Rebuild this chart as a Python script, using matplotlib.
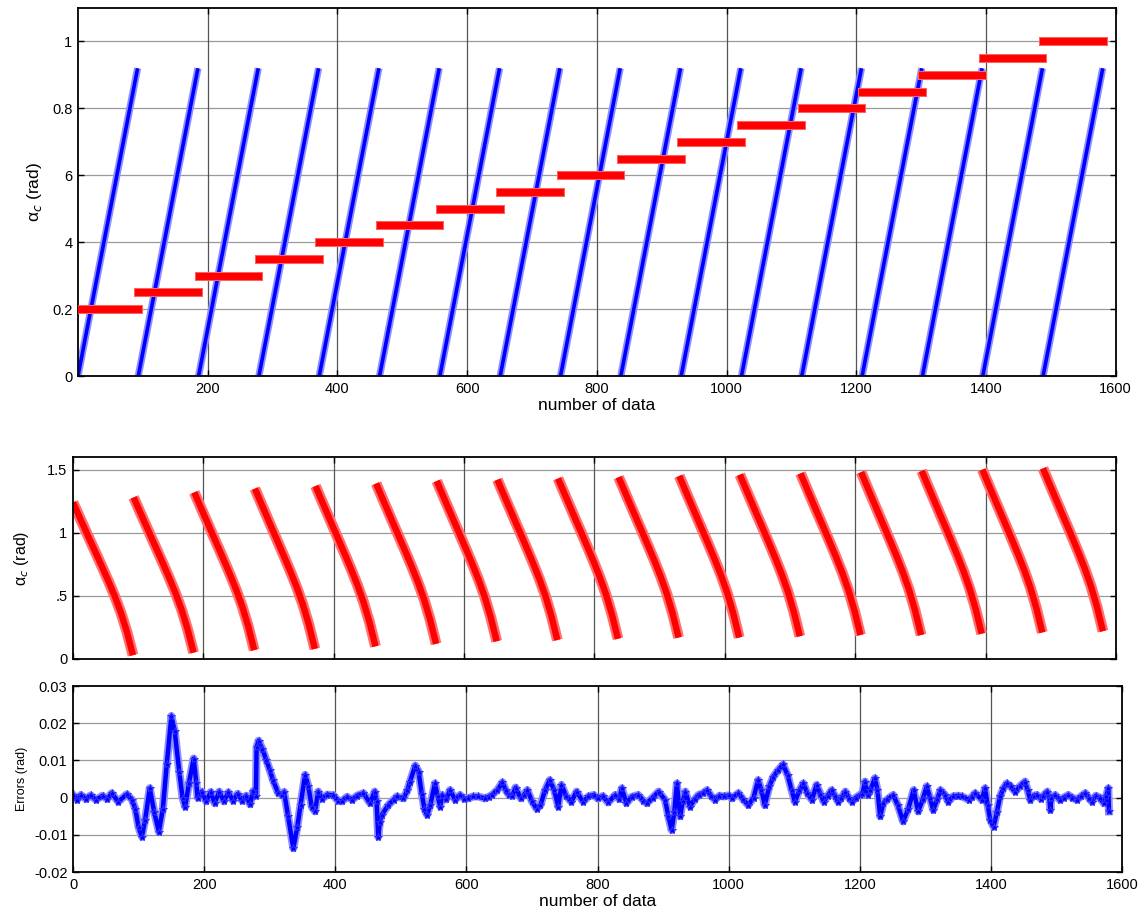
# Imports
import matplotlib
matplotlib.use('Agg')
import matplotlib.pyplot as plt
import matplotlib.patheffects as pe


# Data
seg_len = 93                      # samples per sweep
n_seg = 17
ramp_low = 0.0                    # alpha sweep, start and end of each segment
ramp_high = 0.92
step_levels = [0.20, 0.25, 0.30, 0.35, 0.40, 0.45, 0.50, 0.55, 0.60,
               0.65, 0.70, 0.75, 0.80, 0.85, 0.90, 0.95, 1.00]

# alpha_c per segment: first and last value, plus the common shape of the curve
ac_start = [1.24, 1.28, 1.32, 1.35, 1.37, 1.39, 1.41, 1.42, 1.43,
            1.44, 1.45, 1.46, 1.47, 1.48, 1.49, 1.50, 1.51]
ac_end = [0.03, 0.05, 0.07, 0.08, 0.10, 0.12, 0.14, 0.15, 0.16,
          0.17, 0.17, 0.18, 0.19, 0.19, 0.20, 0.21, 0.22]
ac_frac = [0.0, 0.1, 0.2, 0.3, 0.4, 0.5, 0.6, 0.7, 0.8, 0.9, 1.0]
ac_shape = [1.0, 0.912, 0.825, 0.738, 0.652, 0.565, 0.476, 0.382, 0.277, 0.151, 0.0]

# Estimation errors
err_idx = [0, 6, 12, 20, 27, 35, 45, 52, 59, 69, 82, 90, 95, 100, 105, 110, 117, 124,
           131, 137, 143, 150, 155, 162, 167, 171, 177, 184, 188, 190, 196, 203, 210,
           216, 223, 230, 237, 244, 251, 258, 264, 270, 275, 279, 280, 283, 289, 295,
           300, 305, 313, 318, 322, 328, 336, 342, 347, 354, 359, 364, 369, 374, 380,
           388, 397, 404, 410, 418, 426, 433, 443, 453, 460, 463, 465.5, 468, 471, 481,
           489, 494, 504, 510, 514, 522, 527, 532, 536, 540, 545, 552, 556, 560, 563,
           569, 575, 583, 590, 597, 603, 610, 618, 628, 634, 639, 647, 655, 660, 665,
           670, 675, 683, 688, 693, 700, 707, 713, 720, 727, 734, 740, 745, 752, 760,
           768, 778, 786, 794, 800, 808, 816, 827, 833, 837, 844, 852, 862, 870, 875,
           884, 893, 903, 908, 913, 917, 921, 926, 930, 934, 941, 948, 954, 961, 967,
           973, 979, 986, 993, 1000, 1005, 1015, 1022, 1030, 1038, 1045, 1050, 1055,
           1062, 1068, 1076, 1083, 1090, 1096, 1101, 1108, 1114, 1120, 1127, 1134, 1140,
           1145, 1151, 1157, 1162, 1167, 1172, 1178, 1183, 1188, 1194, 1200, 1204, 1208,
           1212, 1216, 1223, 1227, 1231, 1236, 1242, 1251, 1258, 1266, 1274, 1282, 1289,
           1296, 1302, 1307, 1312, 1318, 1323, 1330, 1335, 1342, 1350, 1356, 1366, 1371,
           1376, 1386, 1391, 1395, 1399, 1404, 1409, 1414, 1419, 1424, 1430, 1437, 1444,
           1452, 1456, 1460, 1465, 1470, 1476, 1480, 1486, 1489, 1490.6, 1492, 1498, 1505,
           1511, 1518, 1524, 1531, 1537, 1544, 1549, 1554, 1560, 1566, 1572, 1576, 1579,
           1580]
err_val = [0.0007, -0.0006, 0.0007, -0.0004, 0.0006, -0.0006, 0.0005, -0.0004, 0.0012,
           -0.0011, 0.0009, -0.0006, -0.003, -0.008, -0.0105, -0.006, 0.0025, -0.004,
           -0.0092, -0.003, 0.009, 0.0219, 0.018, 0.007, 0.0, -0.0024, 0.004, 0.0105,
           0.004, 0.0, 0.0016, -0.001, 0.0015, -0.0015, 0.0016, -0.001, 0.0014, -0.0008,
           0.001, -0.0008, 0.0005, -0.0018, 0.0018, 0.0005, 0.0135, 0.0153, 0.013, 0.010,
           0.0075, 0.0047, 0.0012, 0.0008, 0.0015, -0.005, -0.0136, -0.008, -0.002,
           0.0061, 0.003, -0.0024, -0.0037, 0.0016, -0.0003, 0.0008, 0.0006, -0.0008,
           -0.001, 0.0002, -0.0006, 0.0005, 0.0012, -0.0015, 0.0016, -0.001, -0.0105,
           -0.0065, -0.0046, -0.002, -0.0006, 0.0003, -0.0002, 0.002, 0.0043, 0.0086,
           0.007, 0.001, -0.003, -0.0046, -0.002, 0.0038, 0.0005, -0.0024, 0.0007,
           -0.0005, 0.002, -0.0006, 0.0007, -0.0003, -0.0002, 0.0003, 0.0003, -0.0002,
           0.0002, 0.0007, 0.002, 0.0041, 0.002, 0.0007, 0.0005, 0.0027, -0.0002, 0.0008,
           0.002, -0.001, -0.003, -0.002, 0.002, 0.0047, 0.002, -0.0024, 0.0034, 0.0005,
           -0.0011, 0.0016, -0.0011, 0.0003, 0.0007, -0.0002, 0.0004, -0.0013, 0.0007,
           -0.0004, 0.0025, -0.0015, 0.0002, 0.0007, -0.0008, -0.0015, 0.0, 0.0016,
           -0.0006, -0.005, -0.0087, -0.004, 0.0038, -0.005, -0.001, 0.0016, -0.0024,
           -0.0005, 0.0007, 0.0012, 0.002, 0.0005, -0.0006, 0.0005, 0.0003, 0.0006,
           -0.0002, 0.0012, -0.0005, -0.002, 0.0, 0.0047, 0.002, -0.002, 0.003, 0.0056,
           0.0075, 0.0089, 0.006, 0.002, -0.0011, 0.002, 0.0038, 0.0012, -0.0006, 0.0034,
           0.001, -0.0011, 0.0005, 0.002, 0.0005, -0.0011, 0.0, 0.0016, 0.0, -0.0011, 0.0,
           0.0007, 0.001, 0.0043, 0.0008, 0.002, 0.0052, 0.002, -0.005, -0.0015, -0.0005,
           0.0007, -0.002, -0.0064, -0.003, 0.002, -0.0037, -0.0005, 0.003, 0.0, -0.0033,
           -0.0005, 0.002, 0.0007, -0.0011, 0.0003, 0.0005, 0.0003, -0.0006, 0.0002,
           0.0012, -0.0006, 0.0025, -0.002, -0.006, -0.0078, -0.004, 0.0003, 0.0025,
           0.0038, 0.003, 0.0016, 0.003, 0.0043, 0.002, -0.0006, 0.0005, 0.0007, -0.0003,
           0.0005, 0.0016, 0.0, -0.0033, 0.0, 0.0007, -0.0006, 0.0, 0.0007, 0.0, -0.0006,
           0.0003, 0.0012, 0.0, -0.0011, 0.0005, 0.0, -0.0015, 0.0005, 0.0025, -0.0037]

x_ticks = [0, 200, 400, 600, 800, 1000, 1200, 1400, 1600]

plt.rcParams['font.family'] = ['Liberation Sans', 'DejaVu Sans']
plt.rcParams['mathtext.fontset'] = 'dejavusans'


def style_axes(ax, xlim, ylim):
    ax.set_xlim(xlim)
    ax.set_ylim(ylim)
    ax.set_xticks(x_ticks)
    ax.tick_params(direction='in', top=True, right=True, length=4, width=1,
                   labelsize=10.5, pad=4)
    ax.grid(False)
    for y in ax.get_yticks():
        if ylim[0] < y < ylim[1]:
            ax.axhline(y, color='#9a9a9a', lw=0.9, zorder=0)
    for x in x_ticks[1:-1]:
        ax.axvline(x, color='#555555', lw=0.9, zorder=0)
    for s in ax.spines.values():
        s.set_linewidth(1.3)


fig = plt.figure(figsize=(11.48, 9.14), dpi=100)

# Top: swept angle (blue) and commanded steps (red)
ax1 = fig.add_axes([0.0679, 0.5886, 0.904, 0.4026])
blue_halo = [pe.Stroke(linewidth=5.2, foreground='#8f8fff'), pe.Normal()]
red_halo = [pe.Stroke(linewidth=6.5, foreground='#ff6060'), pe.Normal()]
for k in range(n_seg):
    x0 = k * seg_len
    x1 = x0 + seg_len - 1
    ax1.plot([x0, x1], [ramp_low, ramp_high], color='#0000ff', lw=2.6,
             solid_capstyle='butt', path_effects=blue_halo, zorder=2)
for k in range(n_seg):
    x0 = k * seg_len
    x1 = x0 + seg_len - 1
    ax1.plot([x0, x1], [step_levels[k], step_levels[k]], color='#ff0000', lw=5,
             solid_capstyle='projecting', path_effects=red_halo, zorder=3)
ax1.set_yticks([0, 0.2, 0.4, 0.6, 0.8, 1])
style_axes(ax1, (0, 1600), (0, 1.1))
ax1.set_xticks(x_ticks[1:])
ax1.set_yticklabels(['0', '0.2', '4', '6', '0.8', '1'])
ax1.set_xlabel('number of data', fontsize=12.5, labelpad=2)
ax1.set_ylabel(r'α$_c$ (rad)', fontsize=12.5, labelpad=6)

# Middle: alpha_c along each sweep
ax2 = fig.add_axes([0.0636, 0.279, 0.9085, 0.221])
for k in range(n_seg):
    xs = [k * seg_len + f * (seg_len - 1) for f in ac_frac]
    ys = [ac_end[k] + s * (ac_start[k] - ac_end[k]) for s in ac_shape]
    ax2.plot(xs, ys, color='#ff0000', lw=4.6, solid_capstyle='butt',
             solid_joinstyle='round',
             path_effects=[pe.Stroke(linewidth=7.8, foreground='#ff7070',
                                     joinstyle='round'), pe.Normal()])
ax2.set_yticks([0, 0.5, 1, 1.5])
style_axes(ax2, (0, 1600), (0, 1.6))
ax2.set_yticklabels(['0', '.5', '1', '1.5'])
ax2.set_xticklabels([])
ax2.set_ylabel(r'α$_c$ (rad)', fontsize=11.5, labelpad=12)

# Bottom: errors (line first, star markers on top)
ax3 = fig.add_axes([0.0636, 0.04595, 0.9138, 0.2035])
ax3.plot(err_idx, err_val, '-', color='#0000ff', lw=3.2, solid_joinstyle='round',
         path_effects=[pe.Stroke(linewidth=5.8, foreground='#8f8fff',
                                 joinstyle='round'), pe.Normal()])
ax3.plot(err_idx, err_val, '*', color='#0000ff', ms=6, mec='#3030ff', mew=0.7)
ax3.set_yticks([-0.02, -0.01, 0, 0.01, 0.02, 0.03])
style_axes(ax3, (0, 1600), (-0.02, 0.03))
ax3.set_yticklabels(['-0.02', '-0.01', '0', '0.01', '0.02', '0.03'])
ax3.set_xlabel('number of data', fontsize=12.5, labelpad=2)
ax3.set_ylabel('Errors (rad)', fontsize=9, labelpad=4)

plt.savefig('out.png', dpi=100)
plt.close()
